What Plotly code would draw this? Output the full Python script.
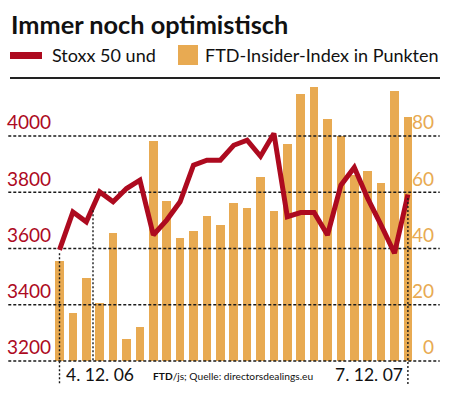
import plotly.graph_objects as go

# ---- data ----
stoxx = [3595, 3730, 3695, 3801, 3766, 3813, 3843, 3648, 3701, 3766, 3896, 3914, 3914,
         3967, 3985, 3928, 4009, 3713, 3728, 3728, 3648, 3825, 3888, 3778, 3683, 3583, 3792]
insider = [35.5, 17, 29.4, 20.7, 45.5, 8, 12, 78.2, 57, 43.7, 46.2, 51.5, 48.2,
           56.2, 54.5, 65.5, 53.4, 77.1, 95, 97.5, 86, 80, 66, 67.6, 63.3, 96, 86.6]
left_ticks = [3200, 3400, 3600, 3800, 4000]
right_ticks = [0, 20, 40, 60, 80]
start_label = "4. 12. 06"
end_label = "7. 12. 07"
title = "Immer noch optimistisch"
legend_line = "Stoxx 50 und"
legend_bar = "FTD-Insider-Index in Punkten"
source = "<b>FTD</b>/js; Quelle: directorsdealings.eu"

# ---- style / geometry ----
W, H = 450, 396
PL, PR, PT, PB = 8, 440, 82, 390
RED = "#ad0a1f"
ORANGE = "#e8aa52"
FONT = "Lato"

n = len(stoxx)
idx = list(range(n))
pitch = 13.4
c0 = 59.5
xr = [(PL - c0) / pitch, (PR - c0) / pitch]

# stoxx axis: 3200 at py=361, 4000 at py=136
ppu = (361 - 136) / 800.0
yr = [3200 - (PB - 361) / ppu, 4000 + (136 - PT) / ppu]
ppu2 = (361 - 136) / 80.0
yr2 = [0 - (PB - 361) / ppu2, 80 + (136 - PT) / ppu2]


def px_x(px):
    return (px - PL) / (PR - PL)


def px_y(py):
    return (PB - py) / (PB - PT)


def yval(py):
    return 3200 + (361 - py) / ppu


fig = go.Figure()

# bars on primary axis (drawn first)
fig.add_trace(go.Bar(x=idx, y=insider, yaxis="y", marker=dict(color=ORANGE, line=dict(width=0)),
                     width=0.65, hoverinfo="skip", showlegend=False))

# gridlines on the stoxx (overlay) axis, between bars and line
eps = 0.02
for t in left_ticks:
    fig.add_trace(go.Scatter(x=[xr[0] + eps, xr[1] - eps], y=[t, t], yaxis="y2", mode="lines",
                             line=dict(color="#1a1a1a", width=1.4, dash="3px,2px"),
                             hoverinfo="skip", showlegend=False, cliponaxis=False))

fig.add_trace(go.Scatter(x=idx, y=stoxx, yaxis="y2", mode="lines", line=dict(color=RED, width=5),
                         hoverinfo="skip", showlegend=False))

shapes = []
bottom_v = yval(385)
for xi, yb in [(0, bottom_v), (n - 1, bottom_v), (2.5, left_ticks[0])]:
    if xi == 2.5:
        ytop = (stoxx[2] + stoxx[3]) / 2.0 - 12
    else:
        ytop = stoxx[int(xi)] - 12
    shapes.append(dict(type="line", xref="x", yref="y2", x0=xi, x1=xi, y0=ytop, y1=yb,
                       line=dict(color="#1a1a1a", width=1.4, dash="2px,2px"), layer="above"))

shapes.append(dict(type="line", xref="paper", yref="paper", x0=px_x(10), x1=px_x(440),
                   y0=px_y(78), y1=px_y(78), line=dict(color="#222", width=2)))
shapes.append(dict(type="rect", xref="paper", yref="paper", x0=px_x(10), x1=px_x(42),
                   y0=px_y(59), y1=px_y(52), fillcolor=RED, line=dict(width=0)))
shapes.append(dict(type="rect", xref="paper", yref="paper", x0=px_x(178), x1=px_x(198),
                   y0=px_y(65), y1=px_y(45), fillcolor=ORANGE, line=dict(width=0)))

annotations = [
    dict(text="<b>" + title + "</b>", xref="paper", yref="paper", x=px_x(9), y=px_y(24),
         xanchor="left", yanchor="middle", showarrow=False, font=dict(family=FONT, size=25.3, color="#111")),
    dict(text=legend_line, xref="paper", yref="paper", x=px_x(50), y=px_y(55),
         xanchor="left", yanchor="middle", showarrow=False, font=dict(family=FONT, size=18, color="#111")),
    dict(text=legend_bar, xref="paper", yref="paper", x=px_x(203), y=px_y(55),
         xanchor="left", yanchor="middle", showarrow=False, font=dict(family=FONT, size=18, color="#111")),
    dict(text=start_label, xref="x", yref="paper", x=0, y=px_y(374), xshift=4,
         xanchor="left", yanchor="middle", showarrow=False, font=dict(family=FONT, size=17.5, color="#111")),
    dict(text=end_label, xref="x", yref="paper", x=n - 1, y=px_y(374), xshift=-3,
         xanchor="right", yanchor="middle", showarrow=False, font=dict(family=FONT, size=17.5, color="#111")),
    dict(text=source, xref="paper", yref="paper", x=px_x(151), y=px_y(376),
         xanchor="left", yanchor="middle", showarrow=False, font=dict(family=FONT, size=10.2, color="#111")),
]

fig.update_layout(
    width=W, height=H,
    margin=dict(l=PL, r=W - PR, t=PT, b=H - PB, pad=0),
    paper_bgcolor="white", plot_bgcolor="white",
    showlegend=False,
    bargap=0,
    hovermode=False,
    xaxis=dict(range=xr, visible=False, fixedrange=True),
    yaxis=dict(range=yr2, tickvals=right_ticks, side="right", showgrid=False, fixedrange=True,
               zeroline=False, showline=False, ticks="", ticklabelposition="inside top",
               ticklabelstandoff=3, tickfont=dict(family=FONT, size=19, color=ORANGE)),
    yaxis2=dict(range=yr, tickvals=left_ticks, overlaying="y", side="left", showgrid=False, fixedrange=True,
                zeroline=False, showline=False, ticks="", ticklabelposition="inside top",
                ticklabelstandoff=-4, tickfont=dict(family=FONT, size=19, color=RED)),
    shapes=shapes,
    annotations=annotations,
)

fig.write_html("out.html", config={"displayModeBar": False, "staticPlot": True},
               post_script="document.body.style.margin='0';document.body.style.padding='0';")
